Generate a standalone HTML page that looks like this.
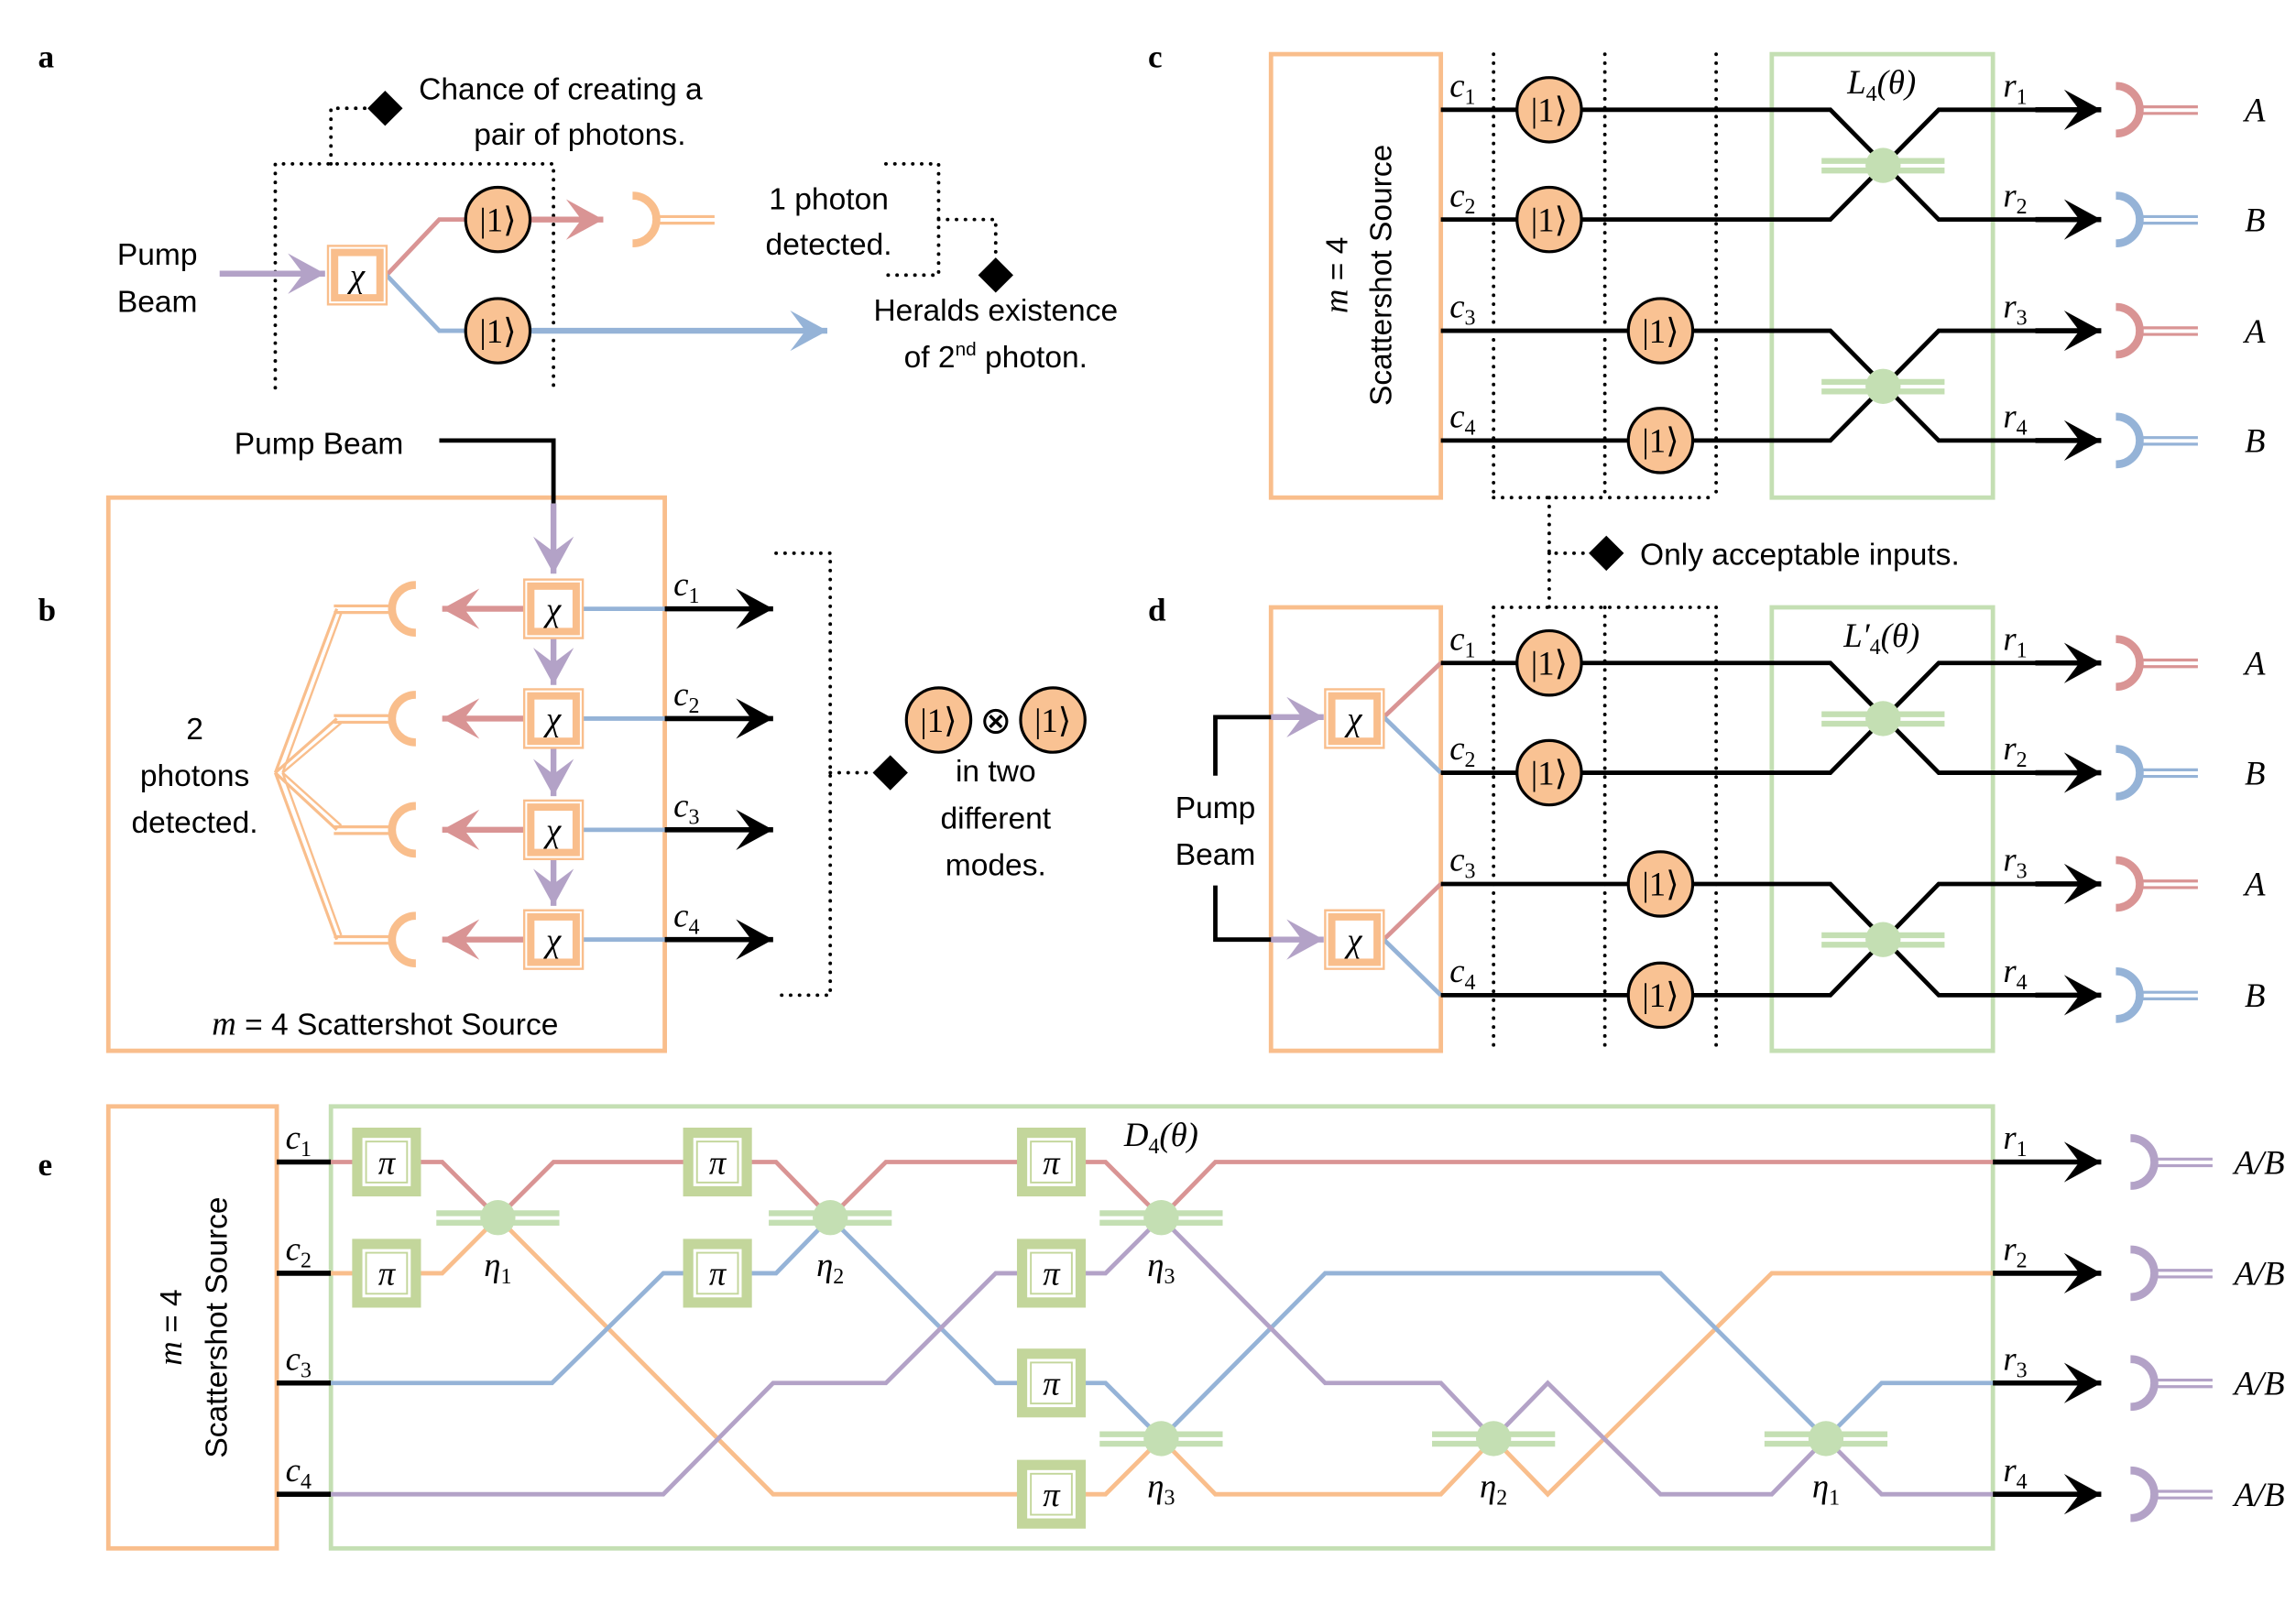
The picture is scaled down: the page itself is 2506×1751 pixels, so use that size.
<!DOCTYPE html>
<html><head><meta charset="utf-8"><style>
html,body{margin:0;padding:0;background:#fff;}
svg{display:block;}
text{font-family:"Liberation Sans",sans-serif;font-size:21px;fill:#000;}
.m{font-family:"Liberation Serif",serif;font-style:italic;font-size:23px;}
.s{font-size:15px;font-style:normal;}
.lbl{font-weight:bold;font-family:"Liberation Serif",serif;font-size:22px;}
.k{stroke:#000;stroke-width:3;fill:none;}
.r{stroke:#d99494;stroke-width:3;fill:none;}
.b{stroke:#95b3d7;stroke-width:3;fill:none;}
.p{stroke:#b3a2c7;stroke-width:3;fill:none;}
.o{stroke:#f9be8c;stroke-width:3;fill:none;}
.ka{stroke:#000;stroke-width:3.5;fill:none;marker-end:url(#ak);}
.pa{stroke:#b3a2c7;stroke-width:4;fill:none;marker-end:url(#ap);}
.ra{stroke:#d99494;stroke-width:4;fill:none;marker-end:url(#ar);}
.dot{stroke:#000;stroke-width:2.4;fill:none;stroke-dasharray:0.1 6;stroke-linecap:round;}
</style></head><body>
<svg width="2506" height="1751" viewBox="0 0 1568 1096" preserveAspectRatio="none" xmlns="http://www.w3.org/2000/svg">
<defs>
<marker id="ak" markerUnits="userSpaceOnUse" markerWidth="30" markerHeight="30" refX="0" refY="0" viewBox="-22 -13 24 26" orient="auto"><path d="M0,0 L-22,-12 L-13,0 L-22,12Z" fill="#000"/></marker>
<marker id="ar" markerUnits="userSpaceOnUse" markerWidth="30" markerHeight="30" refX="0" refY="0" viewBox="-22 -13 24 26" orient="auto"><path d="M0,0 L-22,-12 L-13,0 L-22,12Z" fill="#d99494"/></marker>
<marker id="ab" markerUnits="userSpaceOnUse" markerWidth="30" markerHeight="30" refX="0" refY="0" viewBox="-22 -13 24 26" orient="auto"><path d="M0,0 L-22,-12 L-13,0 L-22,12Z" fill="#95b3d7"/></marker>
<marker id="ap" markerUnits="userSpaceOnUse" markerWidth="30" markerHeight="30" refX="0" refY="0" viewBox="-22 -13 24 26" orient="auto"><path d="M0,0 L-22,-12 L-13,0 L-22,12Z" fill="#b3a2c7"/></marker>
<g id="detR"><path d="M0,-16 A16,16 0 0 1 0,16" stroke="#d99494" stroke-width="6" fill="none"/><path d="M0,-13 A13,13 0 0 1 0,13" stroke="#fff" stroke-width="1.2" fill="none"/><path d="M16,-2 H56 M16,2.5 H56" stroke="#d99494" stroke-width="2"/></g>
<g id="detB"><path d="M0,-16 A16,16 0 0 1 0,16" stroke="#95b3d7" stroke-width="6" fill="none"/><path d="M0,-13 A13,13 0 0 1 0,13" stroke="#fff" stroke-width="1.2" fill="none"/><path d="M16,-2 H56 M16,2.5 H56" stroke="#95b3d7" stroke-width="2"/></g>
<g id="detP"><path d="M0,-16 A16,16 0 0 1 0,16" stroke="#b3a2c7" stroke-width="6" fill="none"/><path d="M0,-13 A13,13 0 0 1 0,13" stroke="#fff" stroke-width="1.2" fill="none"/><path d="M16,-2 H56 M16,2.5 H56" stroke="#b3a2c7" stroke-width="2"/></g>
<g id="detO"><path d="M0,-16 A16,16 0 0 1 0,16" stroke="#f9be8c" stroke-width="6" fill="none"/><path d="M0,-13 A13,13 0 0 1 0,13" stroke="#fff" stroke-width="1.2" fill="none"/><path d="M16,-2 H56 M16,2.5 H56" stroke="#f9be8c" stroke-width="2"/></g>
<g id="chi"><rect x="-20" y="-20" width="40" height="40" fill="#fff" stroke="#f9be8c" stroke-width="1.5"/><rect x="-15.5" y="-15.5" width="31" height="31" fill="#fff" stroke="#f9be8c" stroke-width="5"/></g>
<g id="pi"><rect x="-20" y="-20" width="40" height="40" fill="#fff" stroke="#c3d69b" stroke-width="7"/><rect x="-14" y="-14" width="28" height="28" fill="none" stroke="#c3d69b" stroke-width="1.2"/></g>
<g id="one"><circle r="22" fill="#f9c293" stroke="#000" stroke-width="2"/></g>
<g id="bs"><path d="M-42,-3 H42 M-42,3.5 H42" stroke="#c4dfb3" stroke-width="4"/><circle r="12" fill="#c4dfb3"/></g>
</defs>

<text class="lbl" x="26" y="46">a</text>
<text class="lbl" x="26" y="424">b</text>
<text class="lbl" x="784" y="46">c</text>
<text class="lbl" x="784" y="424">d</text>
<text class="lbl" x="26" y="803">e</text>

<!-- ===== Panel a ===== -->
<path class="dot" d="M188,265 V112 H378 V265 M226,112 V74 H252"/>
<path d="M263,62 L275,74 L263,86 L251,74Z"/>
<text x="286" y="68">Chance of creating a</text>
<text x="396" y="99" text-anchor="middle">pair of photons.</text>
<text x="80" y="181">Pump</text>
<text x="80" y="213">Beam</text>
<path class="pa" d="M150,187 H222"/>
<path class="r" d="M264,188 L300,150 H320"/>
<path class="b" d="M264,188 L300,226 H320"/>
<use href="#chi" x="244" y="188"/><text class="m" x="244" y="196" text-anchor="middle">χ</text>
<path class="ra" d="M362,150 H412"/>
<path d="M362,226 H565" stroke="#95b3d7" stroke-width="4" fill="none" marker-end="url(#ab)"/>
<use href="#one" x="340" y="150"/><text x="340" y="158" text-anchor="middle" style="font-family:'Liberation Serif',serif;font-size:23px">|1⟩</text>
<use href="#one" x="340" y="226"/><text x="340" y="234" text-anchor="middle" style="font-family:'Liberation Serif',serif;font-size:23px">|1⟩</text>
<use href="#detO" x="432" y="150"/>
<text x="566" y="143" text-anchor="middle">1 photon</text>
<text x="566" y="174" text-anchor="middle">detected.</text>
<path class="dot" d="M605,112 H641 V188 H605 M641,150 H680 V176"/>
<path d="M680,176 L692,188 L680,200 L668,188Z"/>
<text x="680" y="219" text-anchor="middle">Heralds existence</text>
<text x="680" y="251" text-anchor="middle">of 2<tspan dy="-8" font-size="13">nd</tspan><tspan dy="8"> photon.</tspan></text>

<!-- ===== Panel b ===== -->
<rect x="74" y="340" width="380" height="378" fill="none" stroke="#f9be8c" stroke-width="3"/>
<text x="160" y="310">Pump Beam</text>
<path class="k" d="M300,301 H378 V344"/>
<path class="pa" d="M378,344 V392"/>
<path class="pa" d="M378,436 V468"/>
<path class="pa" d="M378,511 V544"/>
<path class="pa" d="M378,587 V619"/>
<path class="ra" d="M358,416 H302"/>
<path class="ra" d="M358,491 H302"/>
<path class="ra" d="M358,567 H302"/>
<path class="ra" d="M358,642 H302"/>
<path class="b" d="M398,416 H454 M398,491 H454 M398,567 H454 M398,642 H454"/>
<use href="#chi" x="378" y="416"/><text class="m" x="378" y="424" text-anchor="middle">χ</text>
<use href="#chi" x="378" y="491"/><text class="m" x="378" y="499" text-anchor="middle">χ</text>
<use href="#chi" x="378" y="567"/><text class="m" x="378" y="575" text-anchor="middle">χ</text>
<use href="#chi" x="378" y="642"/><text class="m" x="378" y="650" text-anchor="middle">χ</text>
<use href="#detO" transform="translate(284,416) scale(-1,1)"/>
<use href="#detO" transform="translate(284,491) scale(-1,1)"/>
<use href="#detO" transform="translate(284,567) scale(-1,1)"/>
<use href="#detO" transform="translate(284,642) scale(-1,1)"/>
<path d="M188,528 L230,416 M188,528 L230,491 M188,528 L230,567 M188,528 L230,642" stroke="#f9be8c" stroke-width="2"/>
<path d="M193,528 L233,419 M193,528 L233,494 M193,528 L233,564 M193,528 L233,639" stroke="#f9be8c" stroke-width="1.5"/>
<text x="133" y="505" text-anchor="middle">2</text>
<text x="133" y="537" text-anchor="middle">photons</text>
<text x="133" y="569" text-anchor="middle">detected.</text>
<path class="ka" d="M454,416 H528"/>
<path class="ka" d="M454,491 H528"/>
<path class="ka" d="M454,567 H528"/>
<path class="ka" d="M454,642 H528"/>
<text class="m" x="460" y="407">c<tspan class="s" dy="5">1</tspan></text>
<text class="m" x="460" y="482">c<tspan class="s" dy="5">2</tspan></text>
<text class="m" x="460" y="558">c<tspan class="s" dy="5">3</tspan></text>
<text class="m" x="460" y="633">c<tspan class="s" dy="5">4</tspan></text>
<path class="dot" d="M530,378 H567 V680 H530 M567,528 H596"/>
<path d="M608,516 L620,528 L608,540 L596,528Z"/>
<use href="#one" x="641" y="492"/><text x="641" y="500" text-anchor="middle" style="font-family:'Liberation Serif',serif;font-size:23px">|1⟩</text>
<text x="680" y="501" text-anchor="middle" style="font-family:'DejaVu Sans',sans-serif;font-size:26px">⊗</text>
<use href="#one" x="719" y="492"/><text x="719" y="500" text-anchor="middle" style="font-family:'Liberation Serif',serif;font-size:23px">|1⟩</text>
<text x="680" y="534" text-anchor="middle">in two</text>
<text x="680" y="566" text-anchor="middle">different</text>
<text x="680" y="598" text-anchor="middle">modes.</text>
<text x="263" y="707" text-anchor="middle"><tspan class="m">m</tspan> = 4 Scattershot Source</text>

<!-- ===== Panel c ===== -->
<rect x="868" y="37" width="116" height="303" fill="none" stroke="#f9be8c" stroke-width="3"/>
<text transform="translate(920,188) rotate(-90)" text-anchor="middle"><tspan class="m">m</tspan> = 4</text>
<text transform="translate(950,188) rotate(-90)" text-anchor="middle">Scattershot Source</text>
<rect x="1210" y="37" width="151" height="303" fill="none" stroke="#c4dfb3" stroke-width="3"/>
<path class="k" d="M984,75 H1250 L1324,150 H1400 M984,150 H1250 L1324,75 H1400 M984,226 H1250 L1324,301 H1400 M984,301 H1250 L1324,226 H1400"/>
<path class="ka" d="M1390,75 H1435"/>
<path class="ka" d="M1390,150 H1435"/>
<path class="ka" d="M1390,226 H1435"/>
<path class="ka" d="M1390,301 H1435"/>
<path class="dot" d="M1020,37 V340 M1096,37 V340 M1172,37 V340 M1020,340 H1172 M1058,340 V378 H1085 M1058,378 V415"/>
<path d="M1097,366 L1109,378 L1097,390 L1085,378Z"/>
<text x="1120" y="386">Only acceptable inputs.</text>
<use href="#one" x="1058" y="75"/><text x="1058" y="83" text-anchor="middle" style="font-family:'Liberation Serif',serif;font-size:23px">|1⟩</text>
<use href="#one" x="1058" y="150"/><text x="1058" y="158" text-anchor="middle" style="font-family:'Liberation Serif',serif;font-size:23px">|1⟩</text>
<use href="#one" x="1134" y="226"/><text x="1134" y="234" text-anchor="middle" style="font-family:'Liberation Serif',serif;font-size:23px">|1⟩</text>
<use href="#one" x="1134" y="301"/><text x="1134" y="309" text-anchor="middle" style="font-family:'Liberation Serif',serif;font-size:23px">|1⟩</text>
<use href="#bs" x="1286" y="113"/><use href="#bs" x="1286" y="264"/>
<text class="m" x="1285" y="64" text-anchor="middle">L<tspan class="s" dy="5">4</tspan><tspan dy="-5">(θ)</tspan></text>
<text class="m" x="990" y="66">c<tspan class="s" dy="5">1</tspan></text>
<text class="m" x="990" y="141">c<tspan class="s" dy="5">2</tspan></text>
<text class="m" x="990" y="217">c<tspan class="s" dy="5">3</tspan></text>
<text class="m" x="990" y="292">c<tspan class="s" dy="5">4</tspan></text>
<text class="m" x="1368" y="66">r<tspan class="s" dy="5">1</tspan></text>
<text class="m" x="1368" y="141">r<tspan class="s" dy="5">2</tspan></text>
<text class="m" x="1368" y="217">r<tspan class="s" dy="5">3</tspan></text>
<text class="m" x="1368" y="292">r<tspan class="s" dy="5">4</tspan></text>
<use href="#detR" x="1445" y="75"/><use href="#detB" x="1445" y="150"/><use href="#detR" x="1445" y="226"/><use href="#detB" x="1445" y="301"/>
<text class="m" x="1540" y="83" text-anchor="middle">A</text>
<text class="m" x="1540" y="158" text-anchor="middle">B</text>
<text class="m" x="1540" y="234" text-anchor="middle">A</text>
<text class="m" x="1540" y="309" text-anchor="middle">B</text>

<!-- ===== Panel d ===== -->
<rect x="868" y="415" width="116" height="303" fill="none" stroke="#f9be8c" stroke-width="3"/>
<rect x="1210" y="415" width="151" height="303" fill="none" stroke="#c4dfb3" stroke-width="3"/>
<path class="k" d="M870,490 H830 V530 M830,605 V642 H870"/>
<path class="pa" d="M868,490 H904"/>
<path class="pa" d="M868,642 H904"/>
<text x="830" y="559" text-anchor="middle">Pump</text>
<text x="830" y="591" text-anchor="middle">Beam</text>
<path class="r" d="M945,490 L984,453 M945,642 L984,604"/>
<path class="b" d="M945,490 L984,528 M945,642 L984,680"/>
<use href="#chi" x="925" y="491"/><text class="m" x="925" y="499" text-anchor="middle">χ</text>
<use href="#chi" x="925" y="642"/><text class="m" x="925" y="650" text-anchor="middle">χ</text>
<path class="k" d="M984,453 H1250 L1324,528 H1400 M984,528 H1250 L1324,453 H1400 M984,604 H1250 L1324,680 H1400 M984,680 H1250 L1324,604 H1400"/>
<path class="ka" d="M1390,453 H1435"/>
<path class="ka" d="M1390,528 H1435"/>
<path class="ka" d="M1390,604 H1435"/>
<path class="ka" d="M1390,680 H1435"/>
<path class="dot" d="M1020,415 H1172 M1020,415 V718 M1096,415 V718 M1172,415 V718"/>
<use href="#one" x="1058" y="453"/><text x="1058" y="461" text-anchor="middle" style="font-family:'Liberation Serif',serif;font-size:23px">|1⟩</text>
<use href="#one" x="1058" y="528"/><text x="1058" y="536" text-anchor="middle" style="font-family:'Liberation Serif',serif;font-size:23px">|1⟩</text>
<use href="#one" x="1134" y="604"/><text x="1134" y="612" text-anchor="middle" style="font-family:'Liberation Serif',serif;font-size:23px">|1⟩</text>
<use href="#one" x="1134" y="680"/><text x="1134" y="688" text-anchor="middle" style="font-family:'Liberation Serif',serif;font-size:23px">|1⟩</text>
<use href="#bs" x="1286" y="491"/><use href="#bs" x="1286" y="642"/>
<text class="m" x="1285" y="442" text-anchor="middle">L′<tspan class="s" dy="5">4</tspan><tspan dy="-5">(θ)</tspan></text>
<text class="m" x="990" y="444">c<tspan class="s" dy="5">1</tspan></text>
<text class="m" x="990" y="519">c<tspan class="s" dy="5">2</tspan></text>
<text class="m" x="990" y="595">c<tspan class="s" dy="5">3</tspan></text>
<text class="m" x="990" y="671">c<tspan class="s" dy="5">4</tspan></text>
<text class="m" x="1368" y="444">r<tspan class="s" dy="5">1</tspan></text>
<text class="m" x="1368" y="519">r<tspan class="s" dy="5">2</tspan></text>
<text class="m" x="1368" y="595">r<tspan class="s" dy="5">3</tspan></text>
<text class="m" x="1368" y="671">r<tspan class="s" dy="5">4</tspan></text>
<use href="#detR" x="1445" y="453"/><use href="#detB" x="1445" y="528"/><use href="#detR" x="1445" y="604"/><use href="#detB" x="1445" y="680"/>
<text class="m" x="1540" y="461" text-anchor="middle">A</text>
<text class="m" x="1540" y="536" text-anchor="middle">B</text>
<text class="m" x="1540" y="612" text-anchor="middle">A</text>
<text class="m" x="1540" y="688" text-anchor="middle">B</text>

<!-- ===== Panel e ===== -->
<rect x="74" y="756" width="115" height="302" fill="none" stroke="#f9be8c" stroke-width="3"/>
<text transform="translate(124,907) rotate(-90)" text-anchor="middle"><tspan class="m">m</tspan> = 4</text>
<text transform="translate(155,907) rotate(-90)" text-anchor="middle">Scattershot Source</text>
<rect x="226" y="756" width="1135" height="302" fill="none" stroke="#c4dfb3" stroke-width="3"/>
<path d="M189,794 H226 M189,870 H226 M189,945 H226 M189,1021 H226" stroke="#000" stroke-width="3.5"/>
<text class="m" x="195" y="785">c<tspan class="s" dy="5">1</tspan></text>
<text class="m" x="195" y="861">c<tspan class="s" dy="5">2</tspan></text>
<text class="m" x="195" y="936">c<tspan class="s" dy="5">3</tspan></text>
<text class="m" x="195" y="1012">c<tspan class="s" dy="5">4</tspan></text>
<path class="r" d="M226,794 H302 L340,832 L378,794 H530 L567,832 L605,794 H755 L793,832 L830,794 H1361"/>
<path class="o" d="M226,870 H302 L340,832 L528,1021 H755 L793,983 L830,1021 H984 L1020,983 L1057,1021 L1210,870 H1361"/>
<path class="b" d="M226,945 H377 L453,870 H530 L567,832 L680,945 H755 L793,983 L905,870 H1134 L1247,983 L1285,945 H1361"/>
<path class="p" d="M226,1021 H453 L528,945 H605 L680,870 H755 L793,832 L905,945 H984 L1020,983 L1057,945 L1134,1021 H1210 L1247,983 L1285,1021 H1361"/>
<use href="#pi" x="264" y="794"/><text class="m" x="264" y="802" text-anchor="middle">π</text>
<use href="#pi" x="264" y="870"/><text class="m" x="264" y="878" text-anchor="middle">π</text>
<use href="#pi" x="490" y="794"/><text class="m" x="490" y="802" text-anchor="middle">π</text>
<use href="#pi" x="490" y="870"/><text class="m" x="490" y="878" text-anchor="middle">π</text>
<use href="#pi" x="718" y="794"/><text class="m" x="718" y="802" text-anchor="middle">π</text>
<use href="#pi" x="718" y="870"/><text class="m" x="718" y="878" text-anchor="middle">π</text>
<use href="#pi" x="718" y="945"/><text class="m" x="718" y="953" text-anchor="middle">π</text>
<use href="#pi" x="718" y="1021"/><text class="m" x="718" y="1029" text-anchor="middle">π</text>
<use href="#bs" x="340" y="832"/><use href="#bs" x="567" y="832"/><use href="#bs" x="793" y="832"/>
<use href="#bs" x="793" y="983"/><use href="#bs" x="1020" y="983"/><use href="#bs" x="1247" y="983"/>
<text class="m" x="340" y="872" text-anchor="middle">η<tspan class="s" dy="5">1</tspan></text>
<text class="m" x="567" y="872" text-anchor="middle">η<tspan class="s" dy="5">2</tspan></text>
<text class="m" x="793" y="872" text-anchor="middle">η<tspan class="s" dy="5">3</tspan></text>
<text class="m" x="793" y="1023" text-anchor="middle">η<tspan class="s" dy="5">3</tspan></text>
<text class="m" x="1020" y="1023" text-anchor="middle">η<tspan class="s" dy="5">2</tspan></text>
<text class="m" x="1247" y="1023" text-anchor="middle">η<tspan class="s" dy="5">1</tspan></text>
<text class="m" x="793" y="783" text-anchor="middle">D<tspan class="s" dy="5">4</tspan><tspan dy="-5">(θ)</tspan></text>
<path class="ka" d="M1361,794 H1435"/>
<path class="ka" d="M1361,870 H1435"/>
<path class="ka" d="M1361,945 H1435"/>
<path class="ka" d="M1361,1021 H1435"/>
<text class="m" x="1368" y="785">r<tspan class="s" dy="5">1</tspan></text>
<text class="m" x="1368" y="861">r<tspan class="s" dy="5">2</tspan></text>
<text class="m" x="1368" y="936">r<tspan class="s" dy="5">3</tspan></text>
<text class="m" x="1368" y="1012">r<tspan class="s" dy="5">4</tspan></text>
<use href="#detP" x="1455" y="794"/><use href="#detP" x="1455" y="870"/><use href="#detP" x="1455" y="945"/><use href="#detP" x="1455" y="1021"/>
<text class="m" x="1543" y="802" text-anchor="middle">A/B</text>
<text class="m" x="1543" y="878" text-anchor="middle">A/B</text>
<text class="m" x="1543" y="953" text-anchor="middle">A/B</text>
<text class="m" x="1543" y="1029" text-anchor="middle">A/B</text>
</svg>
</body></html>
